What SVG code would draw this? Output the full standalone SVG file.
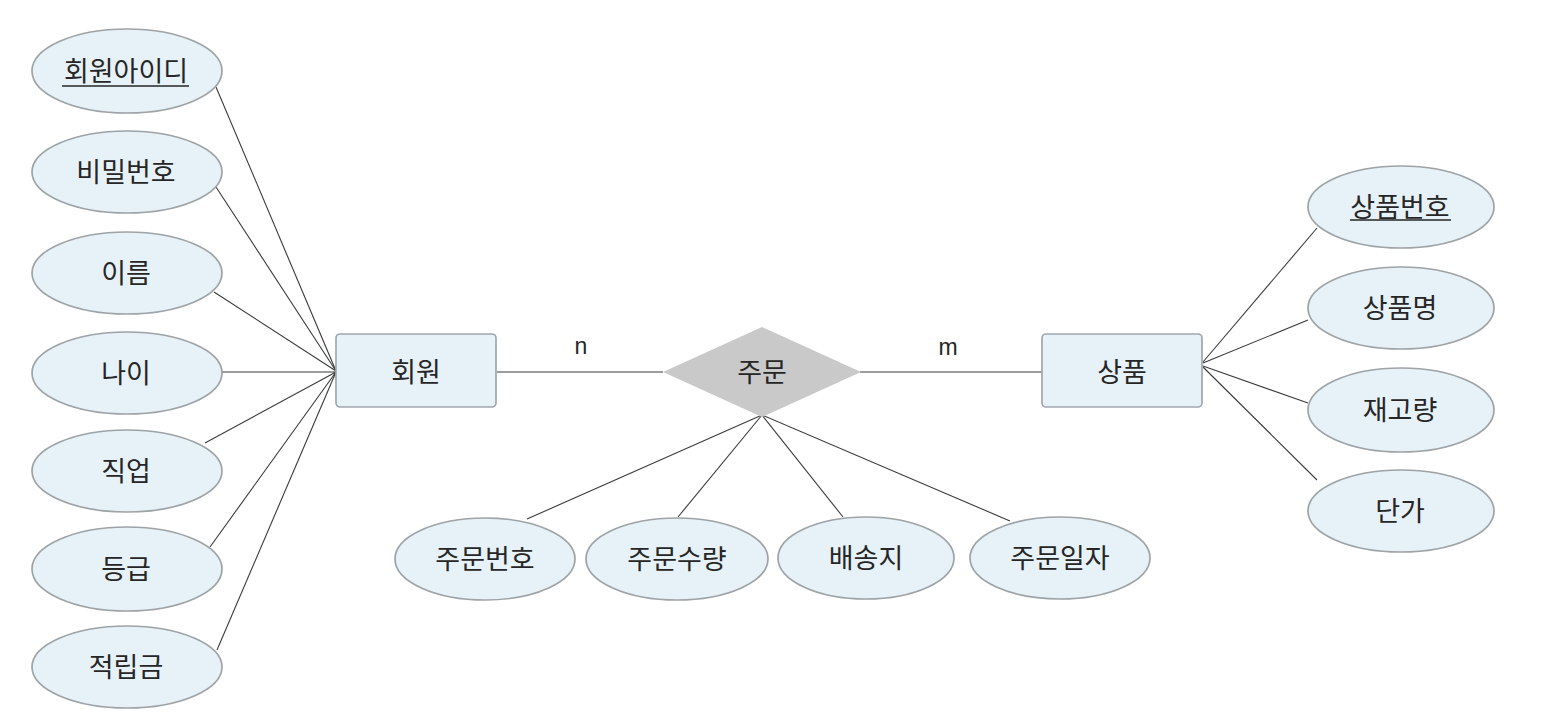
<svg xmlns="http://www.w3.org/2000/svg" width="1542" height="728" viewBox="0 0 1542 728">
<style>
.attr{fill:#e6f1f8;stroke:#9ea3a6;stroke-width:1.7}
.ent{fill:#e6f1f8;stroke:#a0a8ae;stroke-width:1.7}
.rel{fill:#c9c9c9}
.lbl{font-family:"Noto Sans CJK KR","Noto Sans",sans-serif;font-size:27px;fill:#262626;text-anchor:middle}
.card{font-family:"Liberation Sans","Noto Sans",sans-serif;font-size:23px;fill:#262626;text-anchor:middle}
.ul{stroke:#262626;stroke-width:1.4}
.conn line{stroke:#3a3a3a;stroke-width:1.1}
</style>
<rect width="1542" height="728" fill="#ffffff"/>
<g class="conn" id="connectors">
<line x1="216" y1="87" x2="336" y2="371"/>
<line x1="216" y1="187" x2="336" y2="371"/>
<line x1="214" y1="292" x2="336" y2="371"/>
<line x1="222" y1="372" x2="336" y2="372"/>
<line x1="205" y1="443" x2="336" y2="372"/>
<line x1="210" y1="547" x2="336" y2="372"/>
<line x1="217" y1="650" x2="336" y2="372"/>
<line x1="497" y1="372" x2="663" y2="372"/>
<line x1="860" y1="372" x2="1042" y2="372"/>
<line x1="1203" y1="362" x2="1317" y2="228"/>
<line x1="1203" y1="363" x2="1308" y2="320"/>
<line x1="1203" y1="366" x2="1308" y2="403"/>
<line x1="1203" y1="367" x2="1317" y2="480"/>
<line x1="762" y1="415" x2="527" y2="519"/>
<line x1="762" y1="415" x2="678" y2="517"/>
<line x1="762" y1="415" x2="843" y2="517"/>
<line x1="762" y1="415" x2="1010" y2="521"/>
</g>
<text class="card" x="581" y="354">n</text>
<text class="card" x="948" y="355">m</text>
<g id="member">
<rect class="ent" x="336" y="334" width="160" height="73" rx="4"/>
<text class="lbl" x="416" y="382">회원</text>
</g>
<g id="product">
<rect class="ent" x="1042" y="334" width="160" height="73" rx="4"/>
<text class="lbl" x="1122" y="382">상품</text>
</g>
<g id="order">
<polygon class="rel" points="663,372 762,327 861,372 762,417"/>
<text class="lbl" x="762" y="382">주문</text>
</g>
<g id="attr-memberid">
<ellipse class="attr" cx="127" cy="71" rx="95" ry="42"/>
<text class="lbl" x="126" y="81">회원아이디</text>
<line class="ul" x1="62" y1="86" x2="189" y2="86"/>
</g>
<g id="attr-password">
<ellipse class="attr" cx="127" cy="172" rx="95" ry="41"/>
<text class="lbl" x="126" y="182">비밀번호</text>
</g>
<g id="attr-name">
<ellipse class="attr" cx="127" cy="273" rx="95" ry="41"/>
<text class="lbl" x="126" y="283">이름</text>
</g>
<g id="attr-age">
<ellipse class="attr" cx="127" cy="373" rx="95" ry="41"/>
<text class="lbl" x="126" y="383">나이</text>
</g>
<g id="attr-job">
<ellipse class="attr" cx="127" cy="471" rx="95" ry="41"/>
<text class="lbl" x="126" y="481">직업</text>
</g>
<g id="attr-grade">
<ellipse class="attr" cx="127" cy="569" rx="95" ry="42"/>
<text class="lbl" x="126" y="579">등급</text>
</g>
<g id="attr-points">
<ellipse class="attr" cx="127" cy="667" rx="95" ry="41"/>
<text class="lbl" x="126" y="677">적립금</text>
</g>
<g id="attr-prodno">
<ellipse class="attr" cx="1401" cy="207" rx="93" ry="41"/>
<text class="lbl" x="1400" y="217">상품번호</text>
<line class="ul" x1="1350" y1="220" x2="1451" y2="220"/>
</g>
<g id="attr-prodname">
<ellipse class="attr" cx="1401" cy="308" rx="93" ry="41"/>
<text class="lbl" x="1400" y="318">상품명</text>
</g>
<g id="attr-stock">
<ellipse class="attr" cx="1401" cy="410" rx="93" ry="42"/>
<text class="lbl" x="1400" y="420">재고량</text>
</g>
<g id="attr-price">
<ellipse class="attr" cx="1401" cy="511" rx="93" ry="41"/>
<text class="lbl" x="1400" y="521">단가</text>
</g>
<g id="attr-orderno">
<ellipse class="attr" cx="485" cy="559" rx="90" ry="41"/>
<text class="lbl" x="485" y="569">주문번호</text>
</g>
<g id="attr-qty">
<ellipse class="attr" cx="677" cy="559" rx="91" ry="41"/>
<text class="lbl" x="677" y="569">주문수량</text>
</g>
<g id="attr-ship">
<ellipse class="attr" cx="866" cy="558" rx="88" ry="41"/>
<text class="lbl" x="866" y="568">배송지</text>
</g>
<g id="attr-date">
<ellipse class="attr" cx="1060" cy="558" rx="90" ry="41"/>
<text class="lbl" x="1060" y="568">주문일자</text>
</g>
</svg>
